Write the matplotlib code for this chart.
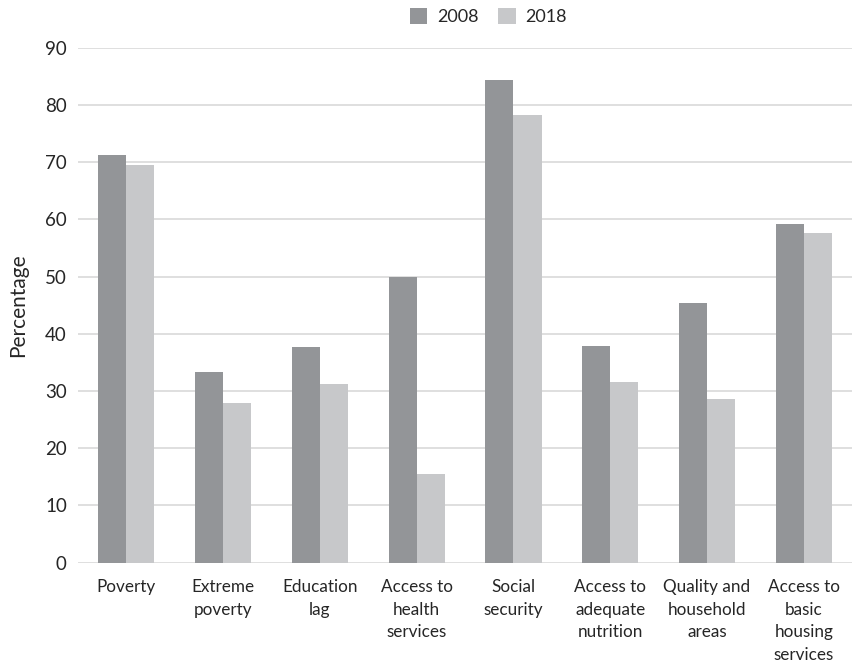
import numpy as np
import matplotlib
matplotlib.use("Agg")
import matplotlib.pyplot as plt

plt.rcParams['font.family'] = ['Lato', 'DejaVu Sans']

# data
categories = ["Poverty", "Extreme\npoverty", "Education\nlag", "Access to\nhealth\nservices",
              "Social\nsecurity", "Access to\nadequate\nnutrition", "Quality and\nhousehold\nareas",
              "Access to\nbasic\nhousing\nservices"]
values_2008 = [71.3, 33.3, 37.6, 50.0, 84.4, 37.9, 45.4, 59.2]
values_2018 = [69.5, 27.9, 31.2, 15.5, 78.3, 31.6, 28.6, 57.6]
yticks = [0, 10, 20, 30, 40, 50, 60, 70, 80, 90]

c2008 = "#939598"
c2018 = "#c7c8ca"
txt = "#262626"

fig = plt.figure(figsize=(8.53, 6.66), dpi=100)
ax = fig.add_axes([0.0914, 0.1553, 0.9076, 0.7731])

x = np.arange(len(categories))
w = 0.29
ax.bar(x - w/2, values_2008, w, color=c2008, label="2008", zorder=2)
ax.bar(x + w/2, values_2018, w, color=c2018, label="2018", zorder=2)

ax.set_xlim(-0.5, len(categories) - 0.5)
ax.set_ylim(0, 90)
ax.set_yticks(yticks)
ax.yaxis.grid(True, color="#dcdcdc", linewidth=1.3, zorder=0)
ax.set_axisbelow(True)
for s in ax.spines.values():
    s.set_visible(False)
ax.tick_params(axis="both", length=0, colors=txt)
ax.tick_params(axis="y", pad=8, labelsize=13.5)
ax.tick_params(axis="x", pad=12, labelsize=12.3)
ax.set_xticks(x)
ax.set_xticklabels(categories, va="top", linespacing=1.5)
ax.set_ylabel("Percentage", fontsize=15, color=txt, labelpad=12)

fig.legend(loc="center", bbox_to_anchor=(0.5727, 0.975), ncol=2, frameon=False,
           fontsize=13, handlelength=0.95, handleheight=0.95, columnspacing=1.1,
           handletextpad=0.55, labelcolor=txt)

fig.savefig("out.png", dpi=100)
